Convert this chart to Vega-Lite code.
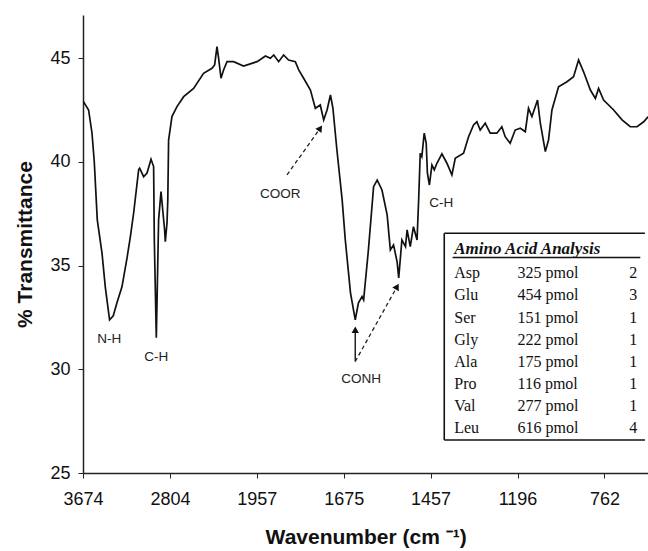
{
  "$schema": "https://vega.github.io/schema/vega-lite/v6.json",
  "width": 565,
  "height": 458,
  "autosize": {"type": "none"},
  "padding": {"left": 83, "top": 15, "right": 0, "bottom": 78},
  "background": "white",
  "config": {"view": {"stroke": null}, "font": "Liberation Sans"},
  "datasets": {
    "spectrum": [
      {"wavenumber":3674,"transmittance":42.95},{"wavenumber":3618,"transmittance":42.51},{"wavenumber":3584,"transmittance":41.40},{"wavenumber":3561,"transmittance":40.00},{"wavenumber":3531,"transmittance":37.21},{"wavenumber":3484,"transmittance":35.62},{"wavenumber":3451,"transmittance":33.98},{"wavenumber":3408,"transmittance":32.39},{"wavenumber":3371,"transmittance":32.58},{"wavenumber":3334,"transmittance":33.21},{"wavenumber":3284,"transmittance":33.98},{"wavenumber":3233,"transmittance":35.38},{"wavenumber":3200,"transmittance":36.39},{"wavenumber":3167,"transmittance":37.54},{"wavenumber":3117,"transmittance":39.62},{"wavenumber":3107,"transmittance":39.70},{"wavenumber":3067,"transmittance":39.29},{"wavenumber":3033,"transmittance":39.47},{"wavenumber":2993,"transmittance":40.13},{"wavenumber":2967,"transmittance":39.78},{"wavenumber":2960,"transmittance":36.24},{"wavenumber":2940,"transmittance":31.52},{"wavenumber":2917,"transmittance":37.21},{"wavenumber":2893,"transmittance":38.57},{"wavenumber":2873,"transmittance":37.54},{"wavenumber":2857,"transmittance":36.73},{"wavenumber":2850,"transmittance":36.16},{"wavenumber":2833,"transmittance":37.06},{"wavenumber":2825,"transmittance":38.17},{"wavenumber":2817,"transmittance":41.06},{"wavenumber":2784,"transmittance":42.19},{"wavenumber":2735,"transmittance":42.67},{"wavenumber":2670,"transmittance":43.15},{"wavenumber":2573,"transmittance":43.55},{"wavenumber":2476,"transmittance":44.28},{"wavenumber":2394,"transmittance":44.52},{"wavenumber":2368,"transmittance":44.68},{"wavenumber":2345,"transmittance":45.56},{"wavenumber":2329,"transmittance":45.00},{"wavenumber":2306,"transmittance":44.04},{"wavenumber":2281,"transmittance":44.44},{"wavenumber":2247,"transmittance":44.84},{"wavenumber":2183,"transmittance":44.84},{"wavenumber":2086,"transmittance":44.63},{"wavenumber":1956,"transmittance":44.84},{"wavenumber":1929,"transmittance":45.11},{"wavenumber":1913,"transmittance":45.00},{"wavenumber":1902,"transmittance":45.16},{"wavenumber":1886,"transmittance":44.84},{"wavenumber":1870,"transmittance":45.16},{"wavenumber":1854,"transmittance":44.92},{"wavenumber":1832,"transmittance":44.84},{"wavenumber":1821,"transmittance":44.44},{"wavenumber":1805,"transmittance":44.04},{"wavenumber":1783,"transmittance":43.47},{"wavenumber":1767,"transmittance":42.59},{"wavenumber":1751,"transmittance":42.75},{"wavenumber":1740,"transmittance":42.03},{"wavenumber":1729,"transmittance":42.51},{"wavenumber":1718,"transmittance":43.23},{"wavenumber":1710,"transmittance":42.60},{"wavenumber":1697,"transmittance":40.58},{"wavenumber":1680,"transmittance":38.17},{"wavenumber":1671,"transmittance":36.24},{"wavenumber":1658,"transmittance":33.69},{"wavenumber":1646,"transmittance":32.39},{"wavenumber":1638,"transmittance":33.21},{"wavenumber":1629,"transmittance":33.51},{"wavenumber":1625,"transmittance":33.35},{"wavenumber":1613,"transmittance":35.76},{"wavenumber":1600,"transmittance":38.81},{"wavenumber":1591,"transmittance":39.13},{"wavenumber":1579,"transmittance":38.65},{"wavenumber":1566,"transmittance":37.45},{"wavenumber":1558,"transmittance":35.76},{"wavenumber":1550,"transmittance":36.00},{"wavenumber":1541,"transmittance":35.18},{"wavenumber":1537,"transmittance":34.41},{"wavenumber":1529,"transmittance":36.24},{"wavenumber":1520,"transmittance":35.92},{"wavenumber":1516,"transmittance":36.73},{"wavenumber":1508,"transmittance":35.92},{"wavenumber":1500,"transmittance":36.88},{"wavenumber":1491,"transmittance":36.24},{"wavenumber":1487,"transmittance":38.17},{"wavenumber":1483,"transmittance":40.42},{"wavenumber":1479,"transmittance":40.26},{"wavenumber":1473,"transmittance":41.39},{"wavenumber":1468,"transmittance":40.90},{"wavenumber":1465,"transmittance":39.46},{"wavenumber":1460,"transmittance":38.89},{"wavenumber":1453,"transmittance":39.86},{"wavenumber":1446,"transmittance":39.62},{"wavenumber":1438,"transmittance":39.94},{"wavenumber":1423,"transmittance":40.39},{"wavenumber":1408,"transmittance":39.94},{"wavenumber":1393,"transmittance":39.38},{"wavenumber":1383,"transmittance":40.18},{"wavenumber":1358,"transmittance":40.42},{"wavenumber":1343,"transmittance":41.22},{"wavenumber":1328,"transmittance":41.79},{"wavenumber":1318,"transmittance":41.94},{"wavenumber":1308,"transmittance":41.54},{"wavenumber":1293,"transmittance":41.87},{"wavenumber":1278,"transmittance":41.39},{"wavenumber":1258,"transmittance":41.39},{"wavenumber":1243,"transmittance":41.70},{"wavenumber":1233,"transmittance":41.22},{"wavenumber":1218,"transmittance":40.90},{"wavenumber":1203,"transmittance":41.54},{"wavenumber":1182,"transmittance":41.63},{"wavenumber":1157,"transmittance":41.46},{"wavenumber":1141,"transmittance":42.59},{"wavenumber":1124,"transmittance":42.19},{"wavenumber":1096,"transmittance":42.99},{"wavenumber":1082,"transmittance":41.87},{"wavenumber":1057,"transmittance":40.50},{"wavenumber":1041,"transmittance":41.06},{"wavenumber":1024,"transmittance":42.51},{"wavenumber":991,"transmittance":43.63},{"wavenumber":949,"transmittance":43.87},{"wavenumber":916,"transmittance":44.11},{"wavenumber":891,"transmittance":44.92},{"wavenumber":866,"transmittance":44.35},{"wavenumber":832,"transmittance":43.47},{"wavenumber":807,"transmittance":43.07},{"wavenumber":791,"transmittance":43.55},{"wavenumber":766,"transmittance":42.99},{"wavenumber":716,"transmittance":42.51},{"wavenumber":674,"transmittance":42.03},{"wavenumber":633,"transmittance":41.70},{"wavenumber":599,"transmittance":41.70},{"wavenumber":566,"transmittance":41.94},{"wavenumber":543,"transmittance":42.19}
    ],
    "labels": [
      {"label":"N-H","wavenumber":3411,"transmittance":31.47},
      {"label":"C-H","wavenumber":2940,"transmittance":30.60},
      {"label":"COOR","wavenumber":1881,"transmittance":38.46},
      {"label":"C-H","wavenumber":1425,"transmittance":38.03},
      {"label":"CONH","wavenumber":1631,"transmittance":29.54}
    ],
    "arrows": [
      {"label":"COOR","wavenumber":1859,"transmittance":39.38,"wavenumber2":1751,"transmittance2":41.63},
      {"label":"CONH amide I","wavenumber":1646,"transmittance":30.38,"wavenumber2":1646,"transmittance2":31.91},
      {"label":"CONH amide II","wavenumber":1646,"transmittance":30.38,"wavenumber2":1541,"transmittance2":33.99}
    ],
    "aminoacids": [
      {"aa":"Asp","amount":"325 pmol","residues":"2"},
      {"aa":"Glu","amount":"454 pmol","residues":"3"},
      {"aa":"Ser","amount":"151 pmol","residues":"1"},
      {"aa":"Gly","amount":"222 pmol","residues":"1"},
      {"aa":"Ala","amount":"175 pmol","residues":"1"},
      {"aa":"Pro","amount":"116 pmol","residues":"1"},
      {"aa":"Val","amount":"277 pmol","residues":"1"},
      {"aa":"Leu","amount":"616 pmol","residues":"4"}
    ]
  },
  "layer": [
    {
      "layer": [
        {
          "data": {"name": "spectrum"},
          "mark": {"type": "line", "color": "#111", "strokeWidth": 1.7, "clip": true},
          "encoding": {
            "x": {
              "field": "wavenumber", "type": "quantitative",
              "scale": {"domain": [3674, 2804, 1957, 1675, 1457, 1196, 762, 543], "range": [0, 86.9, 173.8, 260.7, 347.6, 434.5, 521.4, 565.3], "nice": false, "zero": false},
              "axis": {"values": [3674, 2804, 1957, 1675, 1457, 1196, 762], "format": "d", "title": "Wavenumber (cm ⁻¹)", "titleFontSize": 21, "titleFontWeight": "bold", "titleFont": "Liberation Sans", "titleColor": "#111", "titlePadding": 18, "labelFontSize": 18, "labelFont": "Liberation Sans", "labelColor": "#111", "labelPadding": 12, "labelFlush": false, "labelOverlap": false, "tickSize": 5, "tickColor": "#222", "domainColor": "#222", "domainWidth": 1.5, "grid": false}
            },
            "y": {
              "field": "transmittance", "type": "quantitative",
              "scale": {"domain": [25, 47.09], "nice": false, "zero": false},
              "axis": {"values": [25, 30, 35, 40, 45], "title": "% Transmittance", "titleFontSize": 21, "titleFontWeight": "bold", "titleFont": "Liberation Sans", "titleColor": "#111", "titlePadding": 14, "labelFontSize": 18, "labelFont": "Liberation Sans", "labelColor": "#111", "labelPadding": 8, "tickSize": 5, "tickColor": "#222", "domainColor": "#222", "domainWidth": 1.5, "grid": false}
            }
          }
        },
        {
          "data": {"name": "labels"},
          "mark": {"type": "text", "font": "Liberation Sans", "fontSize": 13.5, "color": "#222", "align": "center", "baseline": "middle"},
          "encoding": {
            "x": {"field": "wavenumber", "type": "quantitative"},
            "y": {"field": "transmittance", "type": "quantitative"},
            "text": {"field": "label"}
          }
        },
        {
          "data": {"name": "arrows"},
          "transform": [{"filter": "datum.label !== 'CONH amide I'"}],
          "mark": {"type": "rule", "color": "#222", "strokeWidth": 1.3, "strokeDash": [4, 3]},
          "encoding": {
            "x": {"field": "wavenumber", "type": "quantitative"},
            "y": {"field": "transmittance", "type": "quantitative"},
            "x2": {"field": "wavenumber2"},
            "y2": {"field": "transmittance2"}
          }
        },
        {
          "data": {"name": "arrows"},
          "transform": [{"filter": "datum.label === 'CONH amide I'"}],
          "mark": {"type": "rule", "color": "#222", "strokeWidth": 1.5},
          "encoding": {
            "x": {"field": "wavenumber", "type": "quantitative"},
            "y": {"field": "transmittance", "type": "quantitative"},
            "x2": {"field": "wavenumber2"},
            "y2": {"field": "transmittance2"}
          }
        },
        {
          "data": {"name": "arrows"},
          "transform": [{"filter": "datum.label === 'COOR'"}],
          "mark": {"type": "point", "shape": "triangle-up", "filled": true, "color": "#111", "opacity": 1, "size": 55, "angle": 35},
          "encoding": {
            "x": {"field": "wavenumber2", "type": "quantitative"},
            "y": {"field": "transmittance2", "type": "quantitative"}
          }
        },
        {
          "data": {"name": "arrows"},
          "transform": [{"filter": "datum.label === 'CONH amide I'"}],
          "mark": {"type": "point", "shape": "triangle-up", "filled": true, "color": "#111", "opacity": 1, "size": 55, "angle": 0},
          "encoding": {
            "x": {"field": "wavenumber2", "type": "quantitative"},
            "y": {"field": "transmittance2", "type": "quantitative"}
          }
        },
        {
          "data": {"name": "arrows"},
          "transform": [{"filter": "datum.label === 'CONH amide II'"}],
          "mark": {"type": "point", "shape": "triangle-up", "filled": true, "color": "#111", "opacity": 1, "size": 55, "angle": 29},
          "encoding": {
            "x": {"field": "wavenumber2", "type": "quantitative"},
            "y": {"field": "transmittance2", "type": "quantitative"}
          }
        }
      ]
    },
    {
      "layer": [
        {
          "data": {"values": [{}]},
          "mark": {"type": "rule", "stroke": "#111", "strokeWidth": 1.6},
          "encoding": {
            "x": {"datum": 1416, "type": "quantitative"},
            "x2": {"datum": 560},
            "y": {"datum": -0.81, "type": "quantitative", "scale": {"domain": [-10.688, 10.036], "reverse": true, "nice": false, "zero": false}, "axis": null}
          }
        },
        {
          "data": {"values": [{}]},
          "mark": {"type": "rule", "stroke": "#111", "strokeWidth": 1.6},
          "encoding": {
            "x": {"datum": 1416, "type": "quantitative"},
            "x2": {"datum": 560},
            "y": {"datum": 8.54, "type": "quantitative", "axis": null}
          }
        },
        {
          "data": {"values": [{}]},
          "mark": {"type": "rule", "stroke": "#111", "strokeWidth": 1.6},
          "encoding": {
            "x": {"datum": 1416, "type": "quantitative"},
            "y": {"datum": -0.81, "type": "quantitative", "axis": null},
            "y2": {"datum": 8.54}
          }
        },
        {
          "data": {"values": [{}]},
          "mark": {"type": "rule", "stroke": "#111", "strokeWidth": 1.5},
          "encoding": {
            "x": {"datum": 1391, "type": "quantitative"},
            "x2": {"datum": 583},
            "y": {"datum": 0.29, "type": "quantitative", "axis": null}
          }
        },
        {
          "data": {"values": [{"title": "Amino Acid Analysis"}]},
          "mark": {"type": "text", "font": "Liberation Serif", "fontSize": 17, "fontWeight": "bold", "fontStyle": "italic", "align": "left", "baseline": "middle", "color": "#111"},
          "encoding": {
            "x": {"datum": 1386, "type": "quantitative"},
            "y": {"datum": -0.09, "type": "quantitative", "axis": null},
            "text": {"field": "title"}
          }
        },
        {
          "data": {"name": "aminoacids"},
          "transform": [{"window": [{"op": "row_number", "as": "row"}]}],
          "mark": {"type": "text", "font": "Liberation Serif", "fontSize": 16, "align": "left", "baseline": "middle", "color": "#111"},
          "encoding": {
            "x": {"datum": 1386, "type": "quantitative"},
            "y": {"field": "row", "type": "quantitative", "axis": null},
            "text": {"field": "aa"}
          }
        },
        {
          "data": {"name": "aminoacids"},
          "transform": [{"window": [{"op": "row_number", "as": "row"}]}],
          "mark": {"type": "text", "font": "Liberation Serif", "fontSize": 16, "align": "left", "baseline": "middle", "color": "#111"},
          "encoding": {
            "x": {"datum": 1196, "type": "quantitative"},
            "y": {"field": "row", "type": "quantitative", "axis": null},
            "text": {"field": "amount"}
          }
        },
        {
          "data": {"name": "aminoacids"},
          "transform": [{"window": [{"op": "row_number", "as": "row"}]}],
          "mark": {"type": "text", "font": "Liberation Serif", "fontSize": 16, "align": "center", "baseline": "middle", "color": "#111"},
          "encoding": {
            "x": {"datum": 618, "type": "quantitative"},
            "y": {"field": "row", "type": "quantitative", "axis": null},
            "text": {"field": "residues"}
          }
        }
      ]
    }
  ],
  "resolve": {"scale": {"y": "independent"}}
}
